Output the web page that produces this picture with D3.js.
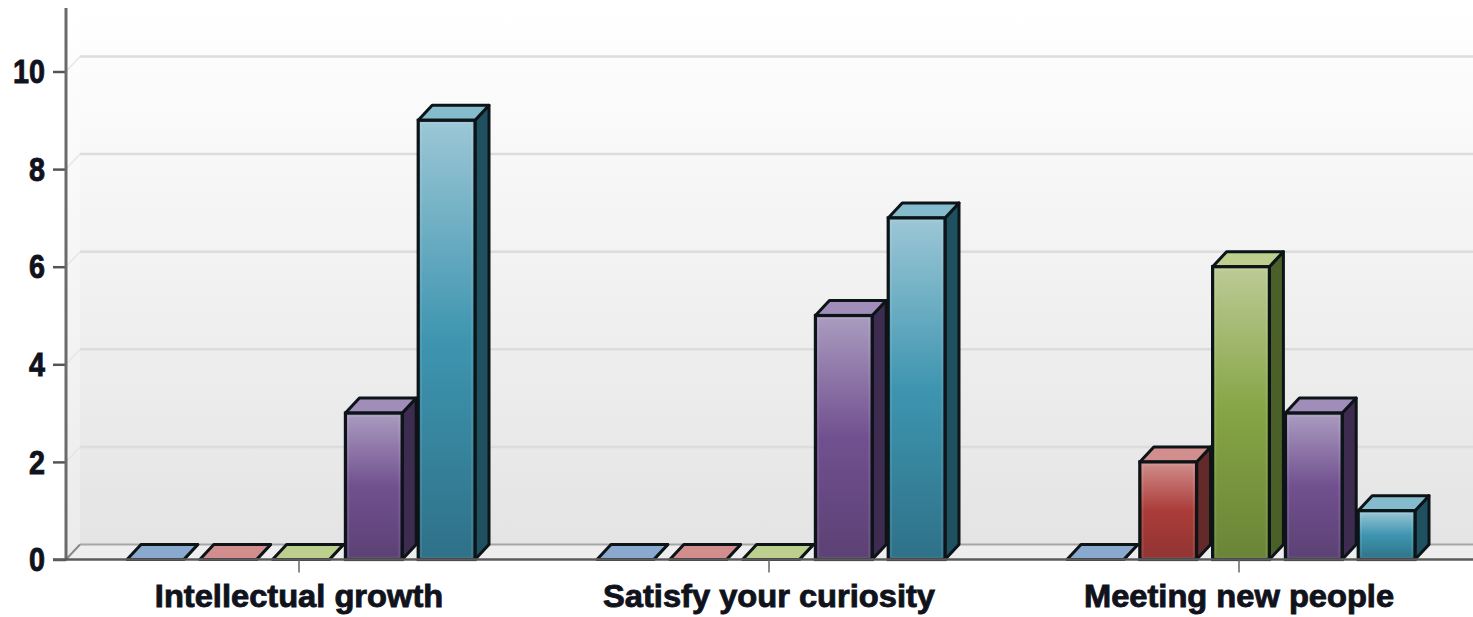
<!DOCTYPE html>
<html>
<head>
<meta charset="utf-8">
<script src="https://cdn.jsdelivr.net/npm/d3@7/dist/d3.min.js"></script>
<style>
  html, body { margin: 0; padding: 0; background: #fff; overflow: hidden; }
  svg { display: block; }
  text { font-family: "Liberation Sans", Arial, sans-serif; font-weight: 700; fill: #10121c; stroke: #10121c; stroke-width: 0.9px; }
</style>
</head>
<body>
<svg id="chart" width="1473" height="617"></svg>
<script>
const categories = ["Intellectual growth", "Satisfy your curiosity", "Meeting new people"];
const yTicks = [0, 2, 4, 6, 8, 10];
const seriesIds = ["s1", "s2", "s3", "s4", "s5"];
const s1 = [0, 0, 0];
const s2 = [0, 0, 2];
const s3 = [0, 0, 6];
const s4 = [3, 5, 3];
const s5 = [9, 7, 1];
const seriesValues = [s1, s2, s3, s4, s5];

// light, mid, base, roof, side tones per series
const palette = [
  ["#a9c0dc", "#4f81bd", "#426d9f", "#8aa9cf", "#2c4a6e"],
  ["#d08f8c", "#ab3c39", "#8f3432", "#d18e8c", "#642a29"],
  ["#bccb96", "#85a444", "#6a8437", "#bccf8d", "#4b5f28"],
  ["#aa9cc0", "#71508f", "#5b4174", "#a08dba", "#3d2c50"],
  ["#9cc7d6", "#3e95b0", "#2e7188", "#85bccd", "#1f505f"]
];

const W = 1473;
const svg = d3.select("#chart");
const defs = svg.append("defs");

const depthX = 14, depthY = 15;
const y = d3.scaleLinear().domain([0, 10]).range([559.5, 71.5]);
const x0 = d3.scaleBand().domain(categories).range([64, 1474]);
const x1 = d3.scaleBand().domain(seriesIds).range([63, 411]).paddingInner(0.22);

const axisX = 66;
const topY = 8;
const floorY = y(0);

// Chart wall shading
const wallGrad = defs.append("linearGradient").attr("id", "wall")
  .attr("x1", 0).attr("y1", 0).attr("x2", 0).attr("y2", 1);
wallGrad.append("stop").attr("offset", "0%").attr("stop-color", "#ffffff");
wallGrad.append("stop").attr("offset", "100%").attr("stop-color", "#e4e4e4");

palette.forEach((p, i) => {
  const g = defs.append("linearGradient").attr("id", "front" + i)
    .attr("x1", 0).attr("y1", 0).attr("x2", 0).attr("y2", 1);
  g.append("stop").attr("offset", "0%").attr("stop-color", p[0]);
  g.append("stop").attr("offset", "50%").attr("stop-color", p[1]);
  g.append("stop").attr("offset", "100%").attr("stop-color", p[2]);
});

// Back wall, side wall and floor of the 3D plot box
svg.append("rect")
  .attr("x", axisX + depthX).attr("y", 10)
  .attr("width", W - axisX - depthX).attr("height", floorY - depthY - 10)
  .attr("fill", "url(#wall)");
svg.append("polygon")
  .attr("points", [[axisX, topY], [axisX + depthX, topY + 4], [axisX + depthX, floorY - depthY], [axisX, floorY]].join(" "))
  .attr("fill", "url(#wall)").attr("opacity", 0.75);
svg.append("polygon")
  .attr("points", [[axisX, floorY], [axisX + depthX, floorY - depthY], [W, floorY - depthY], [W, floorY]].join(" "))
  .attr("fill", "#eeeeee");

// Gridlines on the back wall with a short diagonal on the side wall
const grid = svg.append("g");
yTicks.forEach(t => {
  const gy = y(t) - depthY;
  grid.append("line")
    .attr("x1", axisX + depthX).attr("x2", W).attr("y1", gy).attr("y2", gy)
    .attr("stroke", t === 0 ? "#a6a6a6" : "#dcdcdc").attr("stroke-width", t === 0 ? 2 : 2.5);
  grid.append("line")
    .attr("x1", axisX).attr("x2", axisX + depthX).attr("y1", y(t)).attr("y2", gy)
    .attr("stroke", t === 0 ? "#8a8a8a" : "#e6e6e6").attr("stroke-width", t === 0 ? 2 : 1.5);
});

// Bars: side, roof, then front face with an inner bevel
const edge = "#0c1418";
const groups = svg.append("g").selectAll("g").data(categories).join("g")
  .attr("transform", d => `translate(${x0(d)},0)`);

groups.each(function (cat, ci) {
  const g = d3.select(this);
  seriesIds.forEach((id, si) => {
    const v = seriesValues[si][ci];
    const bx = x1(id), bw = x1.bandwidth(), by = y(v), base = y(0);
    const p = palette[si];
    g.append("polygon")
      .attr("points", [[bx + bw, by], [bx + bw + depthX, by - depthY], [bx + bw + depthX, base - depthY], [bx + bw, base]].join(" "))
      .attr("fill", p[4]).attr("stroke", edge).attr("stroke-width", 3).attr("stroke-linejoin", "round");
    g.append("polygon")
      .attr("points", [[bx, by], [bx + depthX, by - depthY], [bx + bw + depthX, by - depthY], [bx + bw, by]].join(" "))
      .attr("fill", p[3]).attr("stroke", edge).attr("stroke-width", 3).attr("stroke-linejoin", "round");
    if (v > 0) {
      g.append("rect")
        .attr("x", bx).attr("y", by).attr("width", bw).attr("height", base - by)
        .attr("fill", `url(#front${si})`).attr("stroke", edge).attr("stroke-width", 3.2);
      g.append("rect")
        .attr("x", bx + 3).attr("y", by + 3).attr("width", bw - 6).attr("height", base - by - 5)
        .attr("fill", "none").attr("stroke", "#ffffff").attr("stroke-opacity", 0.1).attr("stroke-width", 1.5);
    }
  });
});

// Squeeze or stretch a label horizontally around its anchor
function fitWidth(sel, factor) {
  sel.each(function () {
    d3.select(this)
      .attr("textLength", this.getComputedTextLength() * factor)
      .attr("lengthAdjust", "spacingAndGlyphs");
  });
}

// Axes
const yAxis = d3.axisLeft(y).tickValues(yTicks).tickSize(13).tickPadding(8).tickFormat(d3.format("d"));
const yG = svg.append("g").attr("transform", `translate(${axisX},0)`).call(yAxis);
yG.select(".domain").remove();
yG.selectAll(".tick line").attr("stroke", "#555").attr("stroke-width", 2.5);
yG.selectAll(".tick text").attr("font-size", 33).attr("fill", "#10121c").attr("font-family", null)
  .attr("dy", "0.34em")
  .call(fitWidth, 0.87);

const xAxis = d3.axisBottom(x0).tickSize(13).tickPadding(10);
const xG = svg.append("g").attr("transform", `translate(0,${floorY})`).call(xAxis);
xG.select(".domain").remove();
xG.selectAll(".tick line").attr("stroke", "#666").attr("stroke-width", 1.5);
xG.selectAll(".tick text").attr("font-size", 32).attr("fill", "#10121c").attr("font-family", null)
  .attr("dy", "0.78em")
  .call(fitWidth, 1.02);

// Axis spines drawn last so they sit above the wall
svg.append("line").attr("x1", axisX).attr("x2", axisX).attr("y1", topY).attr("y2", floorY + 1)
  .attr("stroke", "#6a6a6a").attr("stroke-width", 3);
svg.append("line").attr("x1", axisX - 13).attr("x2", W).attr("y1", floorY).attr("y2", floorY)
  .attr("stroke", "#5c5c5c").attr("stroke-width", 2.5);
</script>
</body>
</html>
